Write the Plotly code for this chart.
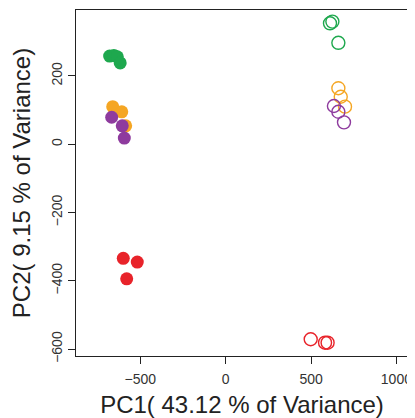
import plotly.graph_objects as go

# Data (PC1, PC2)
green_filled_x = [-680, -655, -635, -618]
green_filled_y = [258, 260, 256, 238]
orange_filled_x = [-662, -609, -586]
orange_filled_y = [110, 95, 54]
purple_filled_x = [-668, -606, -594]
purple_filled_y = [79, 54, 18]
red_filled_x = [-600, -518, -580]
red_filled_y = [-334, -345, -394]

green_open_x = [611, 625, 660]
green_open_y = [354, 359, 297]
orange_open_x = [660, 674, 699]
orange_open_y = [164, 139, 110]
purple_open_x = [634, 660, 693]
purple_open_y = [112, 95, 64]
red_open_x = [498, 582, 597]
red_open_y = [-571, -581, -581]

x_ticks = [-500, 0, 500, 1000]
y_ticks = [-600, -400, -200, 0, 200]

GREEN = "#1EA84E"
ORANGE = "#F5A623"
PURPLE = "#8E3B9E"
RED = "#E8232A"

fig = go.Figure()

def filled(x, y, c):
    fig.add_trace(go.Scatter(x=x, y=y, mode="markers",
                             marker=dict(size=13, color=c, line=dict(width=0)),
                             showlegend=False))

def opened(x, y, c):
    fig.add_trace(go.Scatter(x=x, y=y, mode="markers",
                             marker=dict(size=13, symbol="circle-open", color=c,
                                         line=dict(width=1.4, color=c)),
                             showlegend=False))

filled(green_filled_x, green_filled_y, GREEN)
filled(orange_filled_x, orange_filled_y, ORANGE)
filled(purple_filled_x, purple_filled_y, PURPLE)
filled(red_filled_x, red_filled_y, RED)
opened(green_open_x, green_open_y, GREEN)
opened(orange_open_x, orange_open_y, ORANGE)
opened(purple_open_x, purple_open_y, PURPLE)
opened(red_open_x, red_open_y, RED)

font_family = "Liberation Sans, Arial, sans-serif"

# page body has an 8px default margin, so the figure is sized to fit the window
fig.update_layout(
    width=407, height=410,
    margin=dict(l=68, r=7, t=2, b=62),
    paper_bgcolor="white", plot_bgcolor="white",
    font=dict(family=font_family, color="#222222"),
    xaxis=dict(range=[-877, 1068], tickvals=x_ticks,
               ticktext=[str(v).replace("-", "−") for v in x_ticks],
               showgrid=False, zeroline=False, showline=True, linecolor="#222222",
               linewidth=1.2, mirror=True, ticks="outside", ticklen=7,
               tickcolor="#222222", tickfont=dict(size=14, color="#333333"),
               ticklabelstandoff=3,
               automargin=False,
               title=dict(text="PC1( 43.12 % of Variance)", font=dict(size=24, color="#222222"),
                          standoff=14)),
    yaxis=dict(range=[-620, 393], tickvals=y_ticks,
               ticktext=[str(v).replace("-", "−") for v in y_ticks],
               showgrid=False, zeroline=False, showline=True, linecolor="#222222",
               linewidth=1.2, mirror=True, ticks="outside", ticklen=7,
               tickcolor="#222222", tickangle=-90, tickfont=dict(size=14, color="#333333"),
               ticklabelstandoff=0,
               automargin=False,
               title=dict(text="PC2( 9.15 % of Variance)", font=dict(size=24, color="#222222"),
                          standoff=13)),
)

fig.write_html("out.html")
